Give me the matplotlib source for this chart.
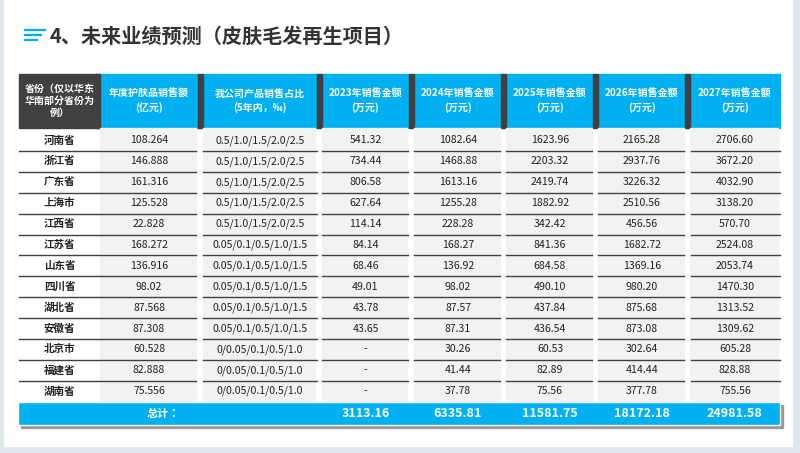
import matplotlib.pyplot as plt
from matplotlib.patches import Rectangle
from matplotlib import font_manager

names = {f.name for f in font_manager.fontManager.ttflist}
cjk = [n for n in ['Noto Sans CJK SC', 'Noto Sans CJK JP', 'Noto Sans CJK TC', 'Noto Sans CJK KR'] if n in names]
plt.rcParams['font.family'] = cjk + ['DejaVu Sans']

title = '4、未来业绩预测（皮肤毛发再生项目）'
headers = ['省份（仅以华东\n华南部分省份为\n例）', '年度护肤品销售额\n(亿元)', '我公司产品销售占比\n(5年内，‰)',
           '2023年销售金额\n(万元)', '2024年销售金额\n(万元)', '2025年销售金额\n(万元)',
           '2026年销售金额\n(万元)', '2027年销售金额\n(万元)']
provinces = ['河南省', '浙江省', '广东省', '上海市', '江西省', '江苏省', '山东省', '四川省',
             '湖北省', '安徽省', '北京市', '福建省', '湖南省']
sales = ['108.264', '146.888', '161.316', '125.528', '22.828', '168.272', '136.916', '98.02',
         '87.568', '87.308', '60.528', '82.888', '75.556']
ratios = ['0.5/1.0/1.5/2.0/2.5'] * 5 + ['0.05/0.1/0.5/1.0/1.5'] * 5 + ['0/0.05/0.1/0.5/1.0'] * 3
y2023 = ['541.32', '734.44', '806.58', '627.64', '114.14', '84.14', '68.46', '49.01', '43.78', '43.65', '-', '-', '-']
y2024 = ['1082.64', '1468.88', '1613.16', '1255.28', '228.28', '168.27', '136.92', '98.02', '87.57', '87.31', '30.26', '41.44', '37.78']
y2025 = ['1623.96', '2203.32', '2419.74', '1882.92', '342.42', '841.36', '684.58', '490.10', '437.84', '436.54', '60.53', '82.89', '75.56']
y2026 = ['2165.28', '2937.76', '3226.32', '2510.56', '456.56', '1682.72', '1369.16', '980.20', '875.68', '873.08', '302.64', '414.44', '377.78']
y2027 = ['2706.60', '3672.20', '4032.90', '3138.20', '570.70', '2524.08', '2053.74', '1470.30', '1313.52', '1309.62', '605.28', '828.88', '755.56']
totals = ['3113.16', '6335.81', '11581.75', '18172.18', '24981.58']

BLUE = '#00b0f0'
DARK = '#404040'

fig = plt.figure(figsize=(8, 4.53), dpi=100)
ax = fig.add_axes([0, 0, 1, 1])
ax.set_xlim(0, 800)
ax.set_ylim(453, 0)
ax.axis('off')

# page frame
ax.add_patch(Rectangle((0, 0), 800, 453, color='#dfe6ec'))
ax.add_patch(Rectangle((4, 0), 788, 446, color='white'))

# title with icon
for i, w in enumerate([20, 16, 12]):
    ax.plot([25, 25 + w], [30 + i * 5, 30 + i * 5], color=BLUE, lw=1.6)
ax.text(50, 36, title, fontsize=14.5, fontweight='bold', color='#333333', va='center')

cols = [(19, 100), (100, 198), (203, 317), (322, 409), (414, 502), (506, 594), (598, 686), (690, 780)]
head_top, head_bot = 74, 128
row_top, row_h = 130, 20.9

# header
for i, ((x0, x1), h) in enumerate(zip(cols, headers)):
    ax.add_patch(Rectangle((x0, head_top), x1 - x0, head_bot - head_top,
                           color=DARK if i == 0 else BLUE))
    if i > 0:
        ax.add_patch(Rectangle((x0 - 5, head_top), 5, head_bot - head_top, color=DARK))
    ax.text((x0 + x1) / 2, (head_top + head_bot) / 2, h, ha='center', va='center',
            fontsize=7.2, fontweight='bold', color='white', linespacing=1.3)

# gray cell backgrounds
n = len(provinces)
for x0, x1 in cols[1:]:
    ax.add_patch(Rectangle((x0, head_bot), x1 - x0 - 2,
                           row_top + n * row_h - head_bot, color='#f2f2f2'))

columns = [provinces, sales, ratios, y2023, y2024, y2025, y2026, y2027]
line_spans = [(19, 196), (203, 317), (322, 408), (414, 500), (506, 592), (598, 684), (691, 780)]
for r in range(n):
    yc = row_top + r * row_h + row_h / 2
    for c, (x0, x1) in enumerate(cols):
        ax.text((x0 + x1) / 2, yc, columns[c][r], ha='center', va='center',
                fontsize=7.6, color='#222222', fontweight='bold' if c == 0 else 'normal')
    if r < n - 1:
        yl = row_top + (r + 1) * row_h
        for x0, x1 in line_spans:
            ax.plot([x0, x1], [yl, yl], color=DARK, lw=1)

# total row
ty0, ty1 = 402, 425
ax.add_patch(Rectangle((21, ty0 + 3), 762, ty1 - ty0, color='#9a9a9a'))
ax.add_patch(Rectangle((18, ty0), 762, ty1 - ty0, color=BLUE, ec='white', lw=1))
ax.text(163, (ty0 + ty1) / 2, '总计：', ha='center', va='center', fontsize=8, fontweight='bold', color='white')
for (x0, x1), t in zip(cols[3:], totals):
    ax.text((x0 + x1) / 2, (ty0 + ty1) / 2, t, ha='center', va='center',
            fontsize=9, fontweight='bold', color='white')

fig.savefig('out.png', dpi=100)
